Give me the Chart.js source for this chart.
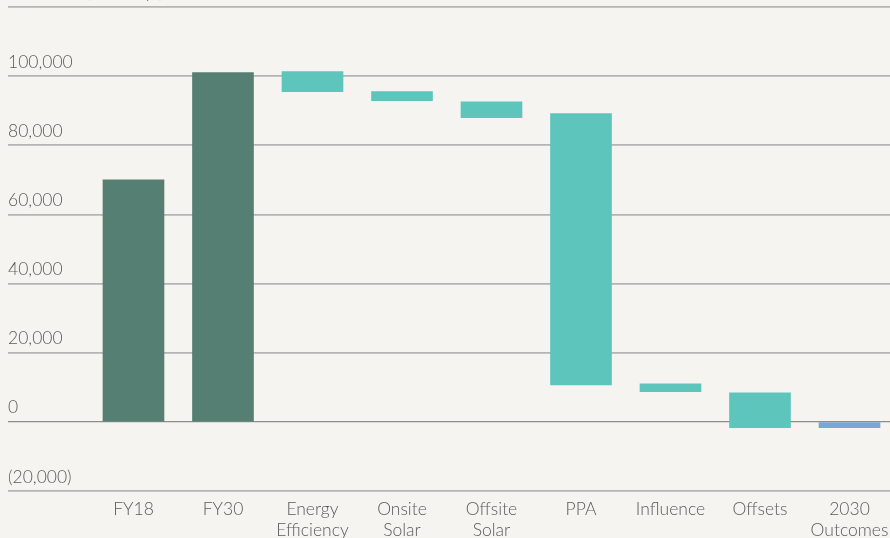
<!DOCTYPE html>
<html><head><meta charset="utf-8">
<script src="https://cdn.jsdelivr.net/npm/chart.js@4/dist/chart.umd.min.js"></script>
<style>
html,body{margin:0;padding:0;background:#f5f4f0;overflow:hidden;width:890px;height:538px;}
#wrap{position:absolute;left:0;top:-20px;width:910px;height:569px;}
</style></head><body>
<div id="wrap"><canvas id="c"></canvas></div>
<script>
const categories = [["FY18"], ["FY30"], ["Energy", "Efficiency"], ["Onsite", "Solar"], ["Offsite", "Solar"], ["PPA"], ["Influence"], ["Offsets"], ["2030", "Outcomes"]];
const lows  = [0,     0,      95500,  92900, 88000, 10700, 8700,  -1700, -1700];
const highs = [70000, 101000, 101300, 95500, 92600, 89200, 11000, 8400,  0];
const yTicks = [-20000, 0, 20000, 40000, 60000, 80000, 100000, 120000];
const barColors = ["#567f73", "#567f73", "#5ec5bd", "#5ec5bd", "#5ec5bd", "#5ec5bd", "#5ec5bd", "#5ec5bd", "#78a6d8"];
const axisTitle = "Emissions (tCO\u2082e/yr)";

const textColor = "#5a5a5a";
const fontSpec = {family: "Lato, 'Open Sans', sans-serif", size: 17.5, weight: 300};

function fmt(v) {
  if (v === 120000) return "";
  const s = Math.abs(v).toLocaleString("en-US");
  return v < 0 ? "(" + s + ")" : s;
}

new Chart(document.getElementById("c"), {
  type: "bar",
  data: {
    datasets: [{
      data: categories.map((c, i) => ({x: i, y: [lows[i], highs[i]]})),
      backgroundColor: barColors,
      borderWidth: 0,
      barThickness: 61
    }]
  },
  options: {
    responsive: true,
    maintainAspectRatio: false,
    devicePixelRatio: 1,
    animation: false,
    layout: {padding: {left: 8, right: 0, top: 0, bottom: 0}},
    plugins: {
      legend: {display: false},
      tooltip: {enabled: false},
      title: {
        display: true, text: axisTitle, align: "start",
        color: textColor, font: fontSpec, padding: {top: 1.5, bottom: 4.5}
      }
    },
    scales: {
      x: {
        type: "linear",
        offset: false,
        bounds: "data",
        min: -1.402,
        max: 8.676,
        afterBuildTicks: (s) => { s.ticks = categories.map((c, i) => ({value: i})); },
        ticks: {
          autoSkip: false, maxRotation: 0, padding: 8,
          color: textColor, font: fontSpec,
          callback: (v) => categories[Math.round(v)] || ""
        },
        grid: {display: false, drawTicks: false, offset: false},
        border: {display: false}
      },
      y: {
        min: -20000,
        max: 120000,
        afterBuildTicks: (s) => { s.ticks = yTicks.map(v => ({value: v})); },
        ticks: {
          mirror: true, padding: 0, labelOffset: -14,
          color: textColor, font: fontSpec,
          callback: (v) => fmt(v)
        },
        grid: {
          drawTicks: false,
          color: (ctx) => ctx.tick && ctx.tick.value === 0 ? "#8d8d8d" : "#b4b4b4",
          lineWidth: (ctx) => ctx.tick && ctx.tick.value === 0 ? 1.2 : 1.8
        },
        border: {display: false}
      }
    }
  }
});
</script>
</body></html>
